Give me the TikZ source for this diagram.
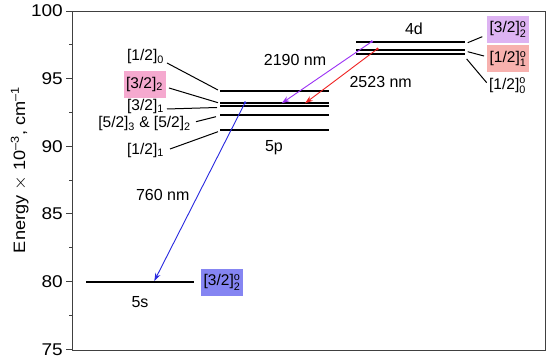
\documentclass[tikz,border=0pt]{standalone}
\usepackage{amsmath}
\usepackage{graphicx}
\usepackage{fontspec}
\setmainfont{Liberation Sans}
\usetikzlibrary{arrows.meta}
\definecolor{pinkbox}{HTML}{F5A9CF}
\definecolor{violetbox}{HTML}{DDB3F2}
\definecolor{salmonbox}{HTML}{F7B1AE}
\definecolor{bluebox}{HTML}{8585F2}
\definecolor{arrpurple}{HTML}{9B30F5}
\definecolor{arrred}{HTML}{F02020}
\definecolor{arrblue}{HTML}{2828E0}
\newcommand{\sbs}[1]{\ensuremath{_{\text{#1}}}}
\newcommand{\sps}[2]{\ensuremath{^{\text{#1}}_{\text{#2}}}}
\begin{document}
\begin{tikzpicture}[x=1pt,y=-1pt,
  txt/.style={font=\fontsize{16}{18}\selectfont, inner sep=0pt},
  ticklbl/.style={font=\fontsize{17}{19}\selectfont, inner sep=0pt, anchor=east},
  lbl/.style={font=\fontsize{15.5}{18}\selectfont, inner sep=0pt},
  levelline/.style={line width=2pt, black},
  leader/.style={line width=1pt, black},
  trans/.style={line width=0.9pt, -{Stealth[length=8pt,width=5.5pt]}},
  boxed/.style={lbl, minimum width=42pt, minimum height=27pt}]
\useasboundingbox (0,0) rectangle (550,363);
\fill[white] (0,0) rectangle (550,363);
% frame
\draw[line width=0.9pt, black!75] (72,11) rectangle (545,350);
% ticks and tick labels
\foreach \v/\yy in {100/11, 95/78.65, 90/146.3, 85/213.95, 80/281.6, 75/349.25}{
  \draw[line width=0.9pt, black!75] (72,\yy) -- (66,\yy);
  \node[ticklbl] (t\v) at (63,\yy) {\scalebox{1.12}[1]{\v}};
}
\foreach \yy in {44.8, 112.5, 180.1, 247.8, 315.4}{
  \draw[line width=0.9pt, black!75] (72,\yy) -- (69,\yy);
}
\node[txt, rotate=90, font=\fontsize{16.5}{18}\selectfont] (ylab) at (20,170)
  {\scalebox{1.1}[1]{Energy $\times$ 10\sps{--3}{}, cm\sps{--1}{}}};
% 5s level
\coordinate (s1) at (86,282);
\coordinate (s2) at (194,282);
\draw[levelline] (s1) -- (s2);
% 5p levels
\coordinate (pa1) at (220,91);    \coordinate (pa2) at (329,91);
\coordinate (pb1) at (220,103); \coordinate (pb2) at (329,103);
\coordinate (pc1) at (220,106.5); \coordinate (pc2) at (329,106.5);
\coordinate (pd1) at (220,115.5); \coordinate (pd2) at (329,115.5);
\coordinate (pe1) at (220,130);   \coordinate (pe2) at (329,130);
\foreach \l in {pa,pb,pc,pd,pe}{\draw[levelline] (\l1) -- (\l2);}
% 4d levels
\coordinate (da1) at (356,42.3); \coordinate (da2) at (465,42.3);
\coordinate (db1) at (356,50);   \coordinate (db2) at (465,50);
\coordinate (dc1) at (356,53.6); \coordinate (dc2) at (465,53.6);
\foreach \l in {da,db,dc}{\draw[levelline] (\l1) -- (\l2);}
% level names
\node[txt] (n4d) at (414,28.5) {4d};
\node[txt] (n5p) at (274,148) {5p};
\node[txt] (n5s) at (140,302) {5s};
% 5p labels
\node[lbl] (l10) at (145.5,56.5) {[1/2]\sbs{0}};
\node[boxed, fill=pinkbox] (l32b) at (144.5,84.3) {[3/2]\sbs{2}};
\node[lbl] (l31) at (145.5,106) {[3/2]\sbs{1}};
\node[lbl] (l52) at (144.5,123.5) {[5/2]\sbs{3} \& [5/2]\sbs{2}};
\node[lbl] (l11) at (145.5,150) {[1/2]\sbs{1}};
\coordinate (e10a) at (167,63);  \coordinate (e10b) at (218,90);
\coordinate (e32a) at (169,88);  \coordinate (e32b) at (218,102.7);
\coordinate (e31a) at (167,109); \coordinate (e31b) at (217,107.5);
\coordinate (e52a) at (196,121.7); \coordinate (e52b) at (216,116.7);
\coordinate (e11a) at (170,149); \coordinate (e11b) at (218,131.7);
\draw[leader] (e10a) -- (e10b);
\draw[leader] (e32a) -- (e32b);
\draw[leader] (e31a) -- (e31b);
\draw[leader] (e52a) -- (e52b);
\draw[leader] (e11a) -- (e11b);
% 4d labels
\node[boxed, fill=violetbox] (r32) at (508,29.5) {[3/2]\sps{o}{2}};
\node[boxed, fill=salmonbox] (r11) at (508,59) {[1/2]\sps{o}{1}};
\node[lbl] (r10) at (507.5,86) {[1/2]\sps{o}{0}};
\coordinate (f32a) at (467.7,42.7); \coordinate (f32b) at (482.3,36.7);
\coordinate (f11a) at (467.7,51.7); \coordinate (f11b) at (484,56);
\coordinate (f10a) at (466.7,59);   \coordinate (f10b) at (486.7,82.7);
\draw[leader] (f32a) -- (f32b);
\draw[leader] (f11a) -- (f11b);
\draw[leader] (f10a) -- (f10b);
% 5s label
\node[boxed, fill=bluebox] (b32) at (222,282.5) {[3/2]\sps{o}{2}};
% transitions
\coordinate (ta) at (371.7,41.7); \coordinate (tae) at (281.7,103.3);
\coordinate (tb) at (377.3,49);   \coordinate (tbe) at (305,103.3);
\coordinate (tc) at (245,102.7);  \coordinate (tce) at (154.3,281);
\draw[trans, arrpurple] (ta) -- (tae);
\fill[arrpurple] (ta) circle (1.5pt);
\draw[trans, arrred] (tb) -- (tbe);
\fill[arrred] (tb) circle (1.5pt);
\draw[trans, arrblue] (tc) -- (tce);
\fill[arrblue] (tc) circle (1.5pt);
\node[txt] (w2190) at (295,60.3) {2190 nm};
\node[txt] (w2523) at (380.7,81.7) {2523 nm};
\node[txt] (w760) at (162.7,194.5) {760 nm};
\end{tikzpicture}
\end{document}
